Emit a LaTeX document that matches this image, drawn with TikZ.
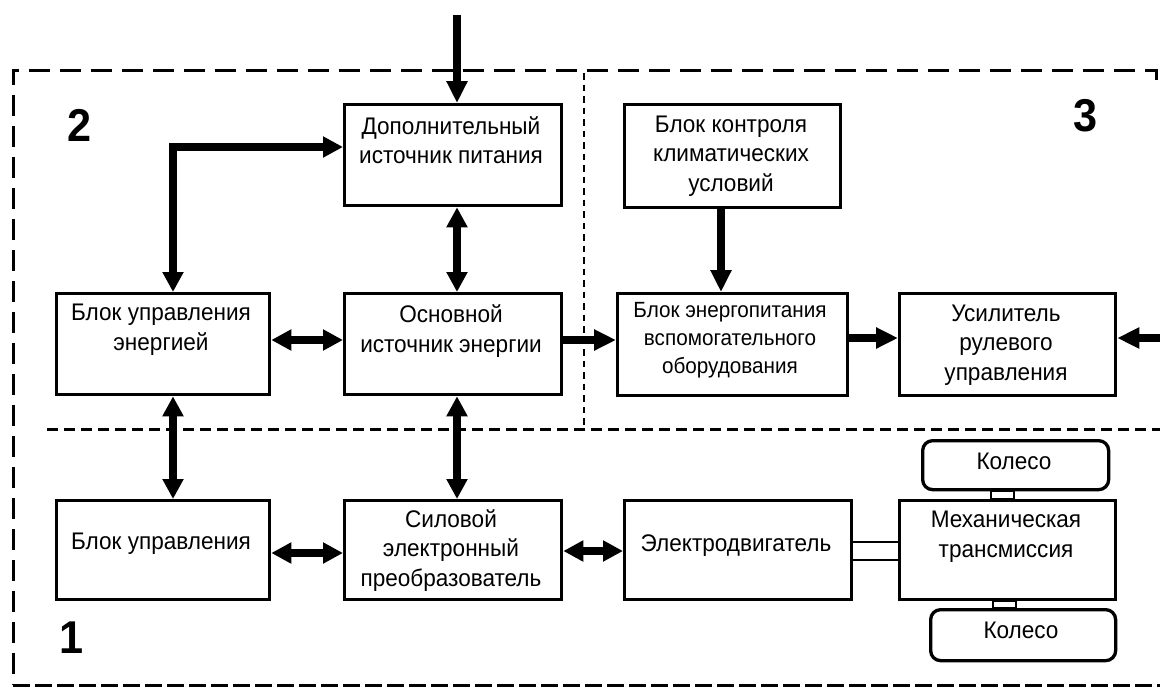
\documentclass[tikz,border=0pt]{standalone}
\usepackage{fontspec}
\setmainfont{Liberation Sans}[FakeStretch=0.94]
\usetikzlibrary{arrows.meta,calc}
\tikzset{
  blk/.style={draw, line width=3.3pt, anchor=north west, inner sep=0pt},
  rblk/.style={blk, rounded corners=10pt},
  txt/.style={align=center, inner sep=0pt, anchor=base, font=\fontsize{24}{29.5}\selectfont},
  smalltxt/.style={txt, font=\fontsize{22}{28}\selectfont},
  num/.style={inner sep=0pt, font=\bfseries\fontsize{46}{46}\selectfont},
  fat/.style={line width=7.5pt},
  onehead/.style={fat, -{Triangle[width=20pt,length=22pt]}},
  twohead/.style={fat, {Triangle[width=20pt,length=20pt]}-{Triangle[width=20pt,length=20pt]}},
  outerdash/.style={line width=3pt, dash pattern=on 21pt off 10pt},
  bottomdash/.style={line width=3pt, dash pattern=on 17pt off 5pt},
  innerdash/.style={line width=3pt, dash pattern=on 11pt off 6pt},
  finedash/.style={line width=2.5pt, dash pattern=on 6.5pt off 5pt},
  shaft/.style={line width=2pt},
}
\begin{document}
\begin{tikzpicture}[x=1pt,y=-1pt]
\useasboundingbox (0,0) rectangle (1160,689);

% region borders
\draw[outerdash] (1156,80) -- (1156,70) -- (13,70) -- (13,685);
\draw[bottomdash] (13,685) -- (1160,685);
\draw[innerdash] (47,429) -- (1160,429);
\draw[finedash] (584,73) -- (584,427);

% region numbers
\node[num] (n2) at (80,125) {2};
\node[num] (n3) at (1086,116) {3};
\node[num] (n1) at (72,638) {1};

% boxes
\node[blk, minimum width=217pt, minimum height=101pt] (dop) at (343,103) {};
\node[blk, minimum width=216pt, minimum height=103pt] (klim) at (623,103) {};
\node[blk, minimum width=213pt, minimum height=101pt] (bue) at (55,292) {};
\node[blk, minimum width=217pt, minimum height=101pt] (osn) at (343,292) {};
\node[blk, minimum width=230pt, minimum height=102pt] (enp) at (616,292) {};
\node[blk, minimum width=216pt, minimum height=102pt] (usl) at (898,292) {};
\node[blk, minimum width=213pt, minimum height=99pt] (bu) at (55,499) {};
\node[blk, minimum width=217pt, minimum height=99pt] (sil) at (343,499) {};
\node[blk, minimum width=227pt, minimum height=99pt] (eld) at (623,499) {};
\node[blk, minimum width=216pt, minimum height=99pt] (mex) at (898,499) {};
\node[rblk, minimum width=186pt, minimum height=49pt] (kol1) at (921,439) {};
\node[rblk, minimum width=185pt, minimum height=51pt] (kol2) at (929,608) {};

% texts (anchor = baseline of last line)
\node[txt] (dopT) at (451,163.5) {Дополнительный\\источник питания};
\node[txt] (klimT) at (731,191) {Блок контроля\\климатических\\условий};
\node[txt] (bueT) at (161,350) {Блок управления\\энергией};
\node[txt] (osnT) at (451,352) {Основной\\источник энергии};
\node[smalltxt] (enpT) at (730,373) {Блок энергопитания\\вспомогательного\\оборудования};
\node[txt] (uslT) at (1006,380) {Усилитель\\рулевого\\управления};
\node[txt] (buT) at (161,549) {Блок управления};
\node[txt] (silT) at (451,586) {Силовой\\электронный\\преобразователь};
\node[txt] (eldT) at (736,551) {Электродвигатель};
\node[txt] (mexT) at (1006,557) {Механическая\\трансмиссия};
\node[txt] (kol1T) at (1014,469) {Колесо};
\node[txt] (kol2T) at (1021,638) {Колесо};

% free ends
\coordinate (topin) at (457,15);
\coordinate (rightin) at (1160,338);

% connectors
\draw[onehead] (topin) -- (topin |- dop.north);
\draw[twohead] (173,0 |- bue.north) |- (dop.west |- 0,147);
\draw[twohead] (dop.south -| topin) -- (osn.north -| topin);
\draw[twohead] (bue.east |- 0,340) -- (osn.west |- 0,340);
\draw[onehead] (osn.east |- 0,340) -- (enp.west |- 0,340);
\draw[onehead] (klim.south -| 721,0) -- (enp.north -| 721,0);
\draw[onehead] (enp.east |- 0,338) -- (usl.west |- 0,338);
\draw[onehead] (rightin) -- (rightin -| usl.east);
\draw[twohead] (173,0 |- bue.south) -- (173,0 |- bu.north);
\draw[twohead] (osn.south -| topin) -- (sil.north -| topin);
\draw[twohead] (bu.east |- 0,553) -- (sil.west |- 0,553);
\draw[twohead] (sil.east |- 0,551) -- (eld.west |- 0,551);

% shaft and wheel couplings
\draw[shaft] (eld.east |- 0,542) -- (mex.west |- 0,542);
\draw[shaft] (eld.east |- 0,560) -- (mex.west |- 0,560);
\draw[shaft] (991,0 |- kol1.south) rectangle (1014,0 |- mex.north);
\draw[shaft] (993,0 |- mex.south) rectangle (1016,0 |- kol2.north);
\end{tikzpicture}
\end{document}
